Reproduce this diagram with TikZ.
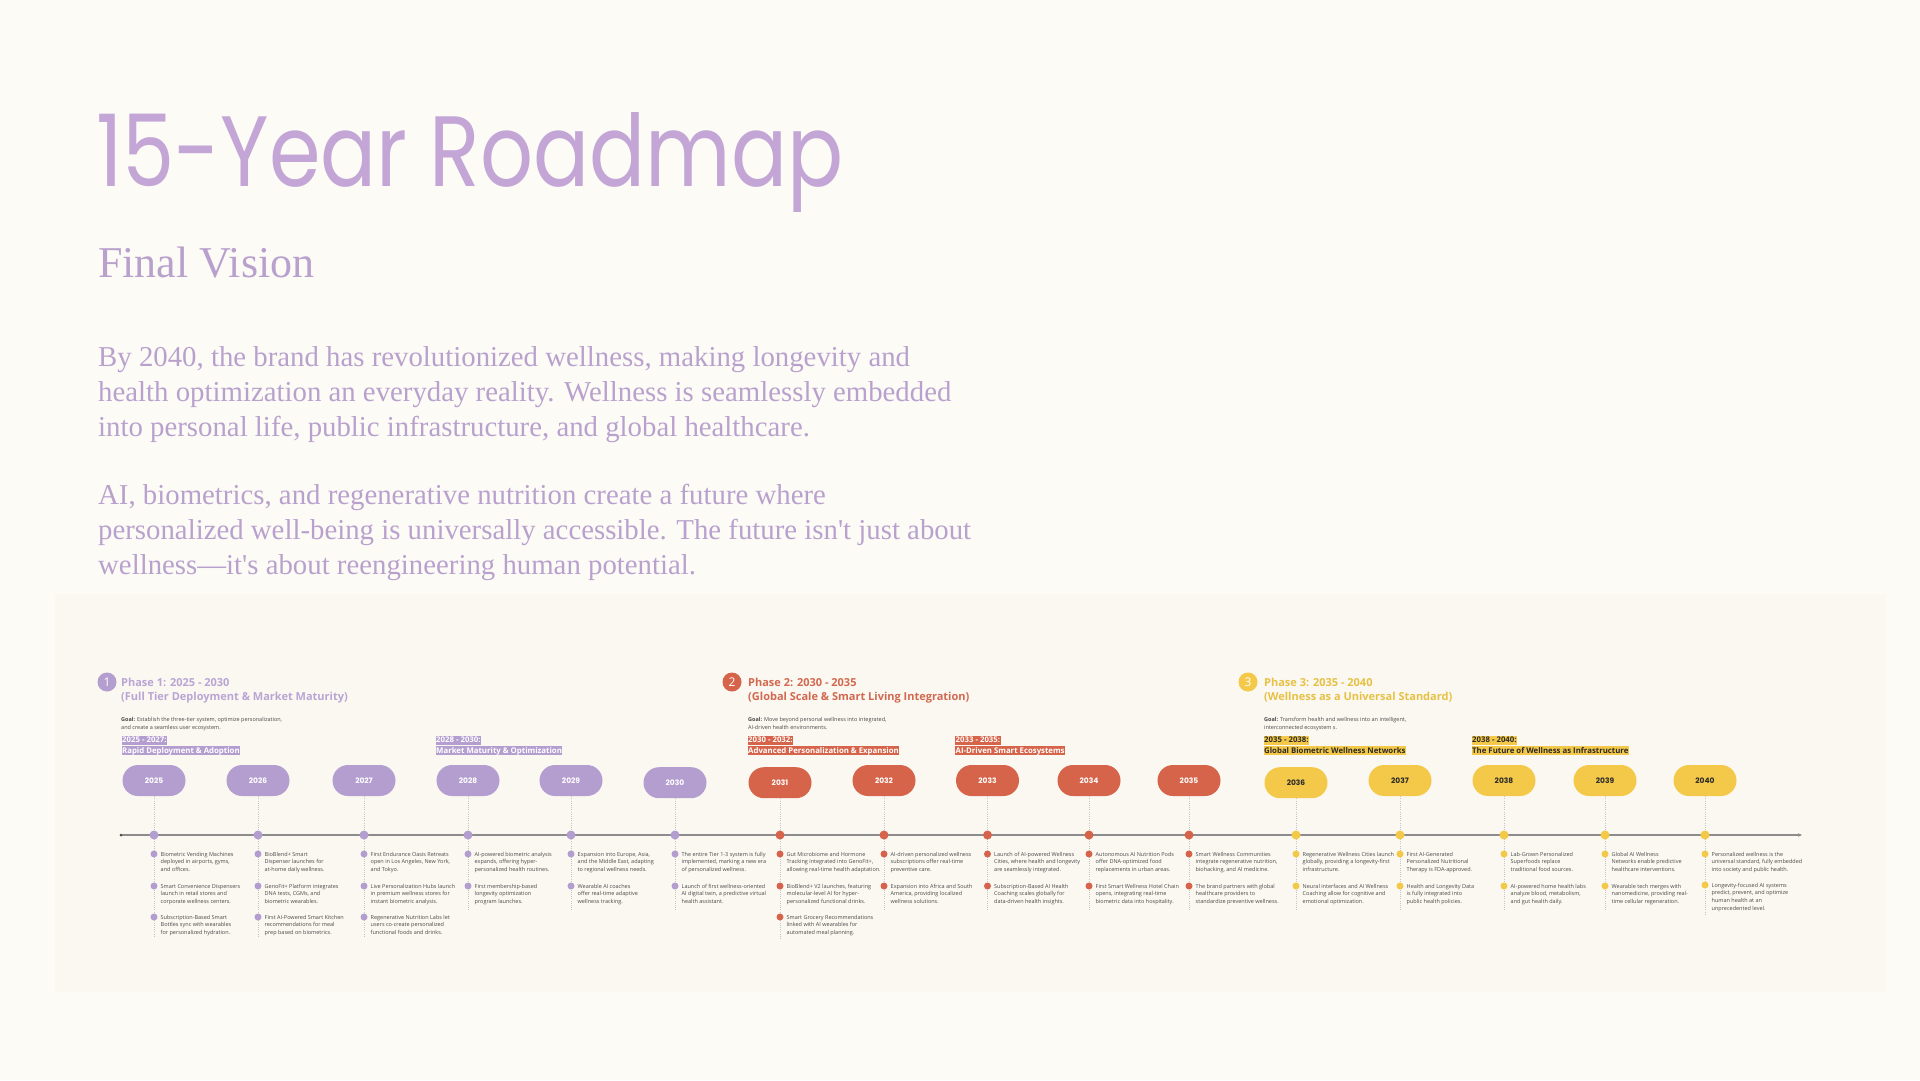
\documentclass[tikz,border=0pt]{standalone}
\usepackage{fontspec}
\setmainfont{Open Sans}
\newfontfamily\popfont{Poppins}
\newfontfamily\serfont{Liberation Serif}
\usetikzlibrary{arrows.meta}
\definecolor{bg}{HTML}{FDFBF6}
\definecolor{panel}{HTML}{FBF8F1}
\definecolor{lav}{HTML}{B49ED0}
\definecolor{lavtext}{HTML}{B9A5D5}
\definecolor{titlelav}{HTML}{C3A6D6}
\definecolor{bodylav}{HTML}{B9A1CE}
\definecolor{rust}{HTML}{D6644A}
\definecolor{rusttext}{HTML}{D2684F}
\definecolor{gold}{HTML}{F4C94A}
\definecolor{goldtext}{HTML}{E6C145}
\definecolor{txt}{HTML}{4A4A4A}
\definecolor{axisc}{HTML}{8C8C8C}
\definecolor{dotc}{HTML}{C4C4C4}
\definecolor{darktxt}{HTML}{2A2A2A}
\tikzset{
  pill/.style={rectangle, rounded corners=15.5pt, minimum width=63pt, minimum height=31pt, inner sep=0pt, font=\popfont\bfseries\fontsize{7.5}{9}\selectfont},
  adot/.style={circle, inner sep=0pt, minimum size=9pt},
  bdot/.style={circle, inner sep=0pt, minimum size=7pt},
  btext/.style={anchor=north west, inner sep=0pt, align=left, text=txt, font=\fontsize{5.5}{7.7}\selectfont},
  goal/.style={anchor=north west, inner sep=0pt, align=left, text=txt, font=\fontsize{5.5}{7.6}\selectfont},
  hd/.style={anchor=base west, inner sep=0pt, font=\bfseries\fontsize{11}{13}\selectfont},
  sub/.style={anchor=base west, inner xsep=0.5pt, inner ysep=0pt, text height=6.8pt, text depth=2.3pt, font=\bfseries\fontsize{7.8}{9}\selectfont},
  pcirc/.style={circle, inner sep=0pt, minimum size=19pt, text=white, font=\fontsize{12}{12}\selectfont},
  dotl/.style={draw=dotc, line width=0.8pt, dash pattern=on 1pt off 1.2pt},
  body/.style={anchor=base west, inner sep=0pt, text=bodylav, font=\serfont\fontsize{28.8}{32}\selectfont},
}
\newcommand\bul[5]{%
  \node[bdot, fill=#4] (#1d) at (#2,#3) {};
  \node[btext] (#1) at ([xshift=6.5pt, yshift=2.2pt]#1d.center) {#5};}
\newcommand\yearcol[5]{% year, x, y pill, color, text colour
  \node[pill, fill=#4, text=#5] (p#1) at (#2,#3) {#1};
  \node[adot, fill=#4] (a#1) at (#2,835) {};
  \draw[dotl] (p#1.south) -- (a#1.north);}
\begin{document}
\begin{tikzpicture}[x=1pt,y=-1pt]
\useasboundingbox (0,0) rectangle (1920,1080);
\fill[bg] (0,0) rectangle (1920,1080);
\fill[panel] (55,594) rectangle (1886,992);

% Title block
\node[anchor=base west, inner sep=0pt, text=titlelav, font=\popfont\fontsize{100}{100}\selectfont] (title) at (96,186) {\scalebox{0.83}[1]{15-Year Roadmap}};
\node[anchor=base west, inner sep=0pt, text=bodylav, font=\serfont\fontsize{44}{44}\selectfont] (subtitle) at (98,277) {Final Vision};
\node[body] (l1) at (98,366) {By 2040, the brand has revolutionized wellness, making longevity and};
\node[body] (l2) at (98,401) {health optimization an everyday reality. Wellness is seamlessly embedded};
\node[body] (l3) at (98,436) {into personal life, public infrastructure, and global healthcare.};
\node[body] (l4) at (98,504) {AI, biometrics, and regenerative nutrition create a future where};
\node[body] (l5) at (98,539) {personalized well-being is universally accessible. The future isn't just about};
\node[body] (l6) at (98,574) {wellness—it's about reengineering human potential.};

% Phase headers
\node[pcirc, fill=lav] (c1) at (107,682) {1};
\node[hd, text=lavtext] (t1a) at (121,686) {Phase 1: 2025 - 2030};
\node[hd, text=lavtext] (t1b) at (121,700.5) {(Full Tier Deployment \& Market Maturity)};
\node[goal] (g1) at (121,717.5) {\textbf{Goal:} Establish the three-tier system, optimize personalization,\\and create a seamless user ecosystem.};
\node[sub, fill=lav, text=white] (s1a) at (121.5,742.5) {2025 - 2027:};
\node[sub, fill=lav, text=white] (s1b) at (121.5,753) {Rapid Deployment \& Adoption};
\node[sub, fill=lav, text=white] (s2a) at (435.5,742.5) {2028 - 2030:};
\node[sub, fill=lav, text=white] (s2b) at (435.5,753) {Market Maturity \& Optimization};

\node[pcirc, fill=rust] (c2) at (732,682) {2};
\node[hd, text=rusttext] (t2a) at (748,686) {Phase 2: 2030 - 2035};
\node[hd, text=rusttext] (t2b) at (748,700.5) {(Global Scale \& Smart Living Integration)};
\node[goal] (g2) at (748,717.5) {\textbf{Goal:} Move beyond personal wellness into integrated,\\AI-driven health environments.};
\node[sub, fill=rust, text=white] (s3a) at (747.5,742.5) {2030 - 2032:};
\node[sub, fill=rust, text=white] (s3b) at (747.5,753) {Advanced Personalization \& Expansion};
\node[sub, fill=rust, text=white] (s4a) at (955,742.5) {2033 - 2035:};
\node[sub, fill=rust, text=white] (s4b) at (955,753) {AI-Driven Smart Ecosystems};

\node[pcirc, fill=gold] (c3) at (1248,682) {3};
\node[hd, text=goldtext] (t3a) at (1264,686) {Phase 3: 2035 - 2040};
\node[hd, text=goldtext] (t3b) at (1264,700.5) {(Wellness as a Universal Standard)};
\node[goal] (g3) at (1264,717.5) {\textbf{Goal:} Transform health and wellness into an intelligent,\\interconnected ecosystem s.};
\node[sub, fill=gold, text=darktxt] (s5a) at (1263.5,742.5) {2035 - 2038:};
\node[sub, fill=gold, text=darktxt] (s5b) at (1263.5,753) {Global Biometric Wellness Networks};
\node[sub, fill=gold, text=darktxt] (s6a) at (1471.5,742.5) {2038 - 2040:};
\node[sub, fill=gold, text=darktxt] (s6b) at (1471.5,753) {The Future of Wellness as Infrastructure};

% Axis
\coordinate (axL) at (121,835);
\coordinate (axR) at (1802,835);
\draw[axisc, line width=1.2pt, -{Stealth[length=4pt,width=3.5pt]}] (axL) -- (axR);
\fill[black!70] (axL) circle (1.5pt);

% Year columns: lower dotted lines first
\foreach \x/\e in {154/938,258/938,364/938,468/910,571/910,675/910,780/940,884/910,987.5/910,1089/910,1189/910,1296/910,1400/910,1504/910,1605/910,1705/916}{
  \draw[dotl] (\x,839) -- (\x,\e);
}
\yearcol{2025}{154}{780.5}{lav}{white}
\yearcol{2026}{258}{780.5}{lav}{white}
\yearcol{2027}{364}{780.5}{lav}{white}
\yearcol{2028}{468}{780.5}{lav}{white}
\yearcol{2029}{571}{780.5}{lav}{white}
\yearcol{2030}{675}{782.7}{lav}{white}
\yearcol{2031}{780}{782.7}{rust}{white}
\yearcol{2032}{884}{780.5}{rust}{white}
\yearcol{2033}{987.5}{780.5}{rust}{white}
\yearcol{2034}{1089}{780.5}{rust}{white}
\yearcol{2035}{1189}{780.5}{rust}{white}
\yearcol{2036}{1296}{782.7}{gold}{darktxt}
\yearcol{2037}{1400}{780.5}{gold}{darktxt}
\yearcol{2038}{1504}{780.5}{gold}{darktxt}
\yearcol{2039}{1605}{780.5}{gold}{darktxt}
\yearcol{2040}{1705}{780.5}{gold}{darktxt}

% Bullets
\bul{b25a}{154}{854}{lav}{Biometric Vending Machines\\deployed in airports, gyms,\\and offices.}
\bul{b25b}{154}{886}{lav}{Smart Convenience Dispensers\\launch in retail stores and\\corporate wellness centers.}
\bul{b25c}{154}{917}{lav}{Subscription-Based Smart\\Bottles sync with wearables\\for personalized hydration.}
\bul{b26a}{258}{854}{lav}{BioBlend+ Smart\\Dispenser launches for\\at-home daily wellness.}
\bul{b26b}{258}{886}{lav}{GenoFit+ Platform integrates\\DNA tests, CGMs, and\\biometric wearables.}
\bul{b26c}{258}{917}{lav}{First AI-Powered Smart Kitchen\\recommendations for meal\\prep based on biometrics.}
\bul{b27a}{364}{854}{lav}{First Endurance Oasis Retreats\\open in Los Angeles, New York,\\and Tokyo.}
\bul{b27b}{364}{886}{lav}{Live Personalization Hubs launch\\in premium wellness stores for\\instant biometric analysis.}
\bul{b27c}{364}{917}{lav}{Regenerative Nutrition Labs let\\users co-create personalized\\functional foods and drinks.}
\bul{b28a}{468}{854}{lav}{AI-powered biometric analysis\\expands, offering hyper-\\personalized health routines.}
\bul{b28b}{468}{886}{lav}{First membership-based\\longevity optimization\\program launches.}
\bul{b29a}{571}{854}{lav}{Expansion into Europe, Asia,\\and the Middle East, adapting\\to regional wellness needs.}
\bul{b29b}{571}{886}{lav}{Wearable AI coaches\\offer real-time adaptive\\wellness tracking.}
\bul{b30a}{675}{854}{lav}{The entire Tier 1-3 system is fully\\implemented, marking a new era\\of personalized wellness.}
\bul{b30b}{675}{886}{lav}{Launch of first wellness-oriented\\AI digital twin, a predictive virtual\\health assistant.}
\bul{b31a}{780}{854}{rust}{Gut Microbiome and Hormone\\Tracking integrated into GenoFit+,\\allowing real-time health adaptation.}
\bul{b31b}{780}{886}{rust}{BioBlend+ V2 launches, featuring\\molecular-level AI for hyper-\\personalized functional drinks.}
\bul{b31c}{780}{917}{rust}{Smart Grocery Recommendations\\linked with AI wearables for\\automated meal planning.}
\bul{b32a}{884}{854}{rust}{AI-driven personalized wellness\\subscriptions offer real-time\\preventive care.}
\bul{b32b}{884}{886}{rust}{Expansion into Africa and South\\America, providing localized\\wellness solutions.}
\bul{b33a}{987.5}{854}{rust}{Launch of AI-powered Wellness\\Cities, where health and longevity\\are seamlessly integrated.}
\bul{b33b}{987.5}{886}{rust}{Subscription-Based AI Health\\Coaching scales globally for\\data-driven health insights.}
\bul{b34a}{1089}{854}{rust}{Autonomous AI Nutrition Pods\\offer DNA-optimized food\\replacements in urban areas.}
\bul{b34b}{1089}{886}{rust}{First Smart Wellness Hotel Chain\\opens, integrating real-time\\biometric data into hospitality.}
\bul{b35a}{1189}{854}{rust}{Smart Wellness Communities\\integrate regenerative nutrition,\\biohacking, and AI medicine.}
\bul{b35b}{1189}{886}{rust}{The brand partners with global\\healthcare providers to\\standardize preventive wellness.}
\bul{b36a}{1296}{854}{gold}{Regenerative Wellness Cities launch\\globally, providing a longevity-first\\infrastructure.}
\bul{b36b}{1296}{886}{gold}{Neural interfaces and AI Wellness\\Coaching allow for cognitive and\\emotional optimization.}
\bul{b37a}{1400}{854}{gold}{First AI-Generated\\Personalized Nutritional\\Therapy is FDA-approved.}
\bul{b37b}{1400}{886}{gold}{Health and Longevity Data\\is fully integrated into\\public health policies.}
\bul{b38a}{1504}{854}{gold}{Lab-Grown Personalized\\Superfoods replace\\traditional food sources.}
\bul{b38b}{1504}{886}{gold}{AI-powered home health labs\\analyze blood, metabolism,\\and gut health daily.}
\bul{b39a}{1605}{854}{gold}{Global AI Wellness\\Networks enable predictive\\healthcare interventions.}
\bul{b39b}{1605}{886}{gold}{Wearable tech merges with\\nanomedicine, providing real-\\time cellular regeneration.}
\bul{b40a}{1705}{854}{gold}{Personalized wellness is the\\universal standard, fully embedded\\into society and public health.}
\bul{b40b}{1705}{885}{gold}{Longevity-focused AI systems\\predict, prevent, and optimize\\human health at an\\unprecedented level.}
\end{tikzpicture}
\end{document}
